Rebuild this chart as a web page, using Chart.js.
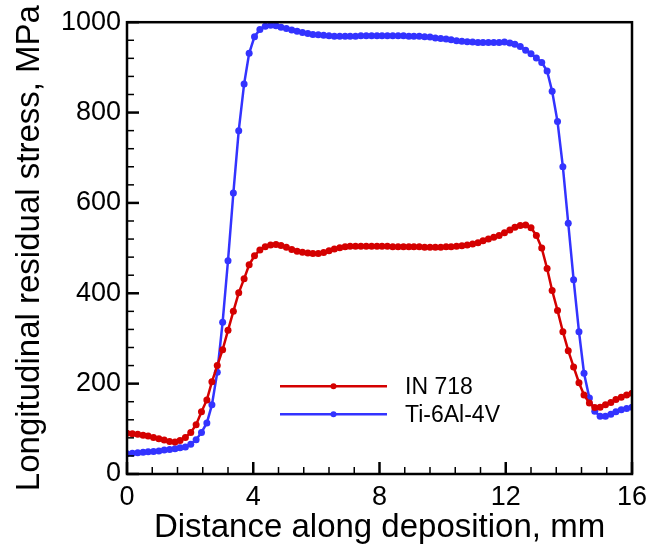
<!DOCTYPE html>
<html>
<head>
<meta charset="utf-8">
<script src="https://cdn.jsdelivr.net/npm/chart.js@4.4.0/dist/chart.umd.min.js"></script>
<style>
  body { margin: 0; background: #fff; }
  #wrap { width: 662px; height: 555px; position: relative; }
</style>
</head>
<body>
<div id="wrap"><canvas id="stressChart"></canvas></div>
<script>
// distance along deposition, mm
const distance = [0, 0.17, 0.34, 0.51, 0.67, 0.84, 1.01, 1.18, 1.35, 1.52, 1.68, 1.85, 2.02, 2.19, 2.36, 2.53,
  2.69, 2.86, 3.03, 3.20, 3.37, 3.54, 3.71, 3.87, 4.04, 4.21, 4.38, 4.55, 4.72, 4.88, 5.05, 5.22,
  5.39, 5.56, 5.73, 5.89, 6.06, 6.23, 6.40, 6.57, 6.74, 6.91, 7.07, 7.24, 7.41, 7.58, 7.75, 7.92,
  8.08, 8.25, 8.42, 8.59, 8.76, 8.93, 9.09, 9.26, 9.43, 9.60, 9.77, 9.94, 10.11, 10.27, 10.44, 10.61,
  10.78, 10.95, 11.12, 11.28, 11.45, 11.62, 11.79, 11.96, 12.13, 12.29, 12.46, 12.63, 12.80, 12.97, 13.14, 13.31,
  13.47, 13.64, 13.81, 13.98, 14.15, 14.32, 14.48, 14.65, 14.82, 14.99, 15.16, 15.33, 15.49, 15.66, 15.83, 16.00];

// longitudinal residual stress, MPa
const in718 = [90, 89, 88, 86, 84, 81, 78, 75, 72, 71, 74, 81, 92, 109, 138, 164,
  204, 240, 275, 318, 360, 401, 432, 463, 483, 496, 503, 507, 508, 506, 502, 497,
  493, 491, 489, 488, 488, 490, 494, 498, 501, 503, 504, 504, 504, 504, 504, 504,
  504, 504, 503, 503, 503, 503, 503, 503, 502, 502, 502, 502, 503, 503, 504, 505,
  507, 509, 512, 516, 520, 524, 528, 534, 540, 546, 550, 551, 545, 528, 500, 455,
  406, 362, 315, 273, 237, 202, 175, 157, 147, 148, 153, 158, 165, 170, 175, 179];

const ti64 = [45, 46, 47, 48, 49, 50, 51, 53, 54, 56, 58, 60, 66, 76, 92, 113,
  153, 225, 336, 472, 622, 760, 863, 931, 968, 984, 991, 993, 992, 989, 986, 983,
  980, 977, 975, 973, 972, 971, 970, 969, 969, 969, 969, 969, 970, 970, 970, 970,
  970, 970, 970, 970, 970, 969, 969, 969, 968, 967, 965, 964, 963, 961, 959, 958,
  957, 956, 955, 955, 955, 955, 955, 956, 954, 951, 946, 938, 930, 921, 911, 892,
  847, 780, 680, 555, 430, 315, 223, 168, 139, 128, 128, 132, 138, 142, 145, 148];

const seriesNames = ['IN 718', 'Ti-6Al-4V'];
const seriesColors = ['#d40000', '#3333ff'];

const xTicks = [0, 4, 8, 12, 16];
const yTicks = [0, 200, 400, 600, 800, 1000];
const xMinorStep = 0.8;
const yMinorStep = 40;

const FONT = '"Liberation Sans", Arial, Helvetica, sans-serif';
Chart.defaults.font.family = FONT;
Chart.defaults.color = '#000';

// frame + inward ticks
const framePlugin = {
  id: 'frame',
  afterDraw(chart) {
    const ctx = chart.ctx;
    const a = chart.chartArea;
    const xs = chart.scales.x, ys = chart.scales.y;
    ctx.save();
    ctx.strokeStyle = '#000';
    for (let v = xs.min; v <= xs.max + 1e-6; v += xMinorStep) {
      const px = xs.getPixelForValue(v);
      const major = xTicks.some(t => Math.abs(t - v) < 1e-6);
      ctx.beginPath();
      ctx.moveTo(px, a.bottom);
      ctx.lineTo(px, a.bottom - (major ? 12 : 7));
      ctx.lineWidth = major ? 2.5 : 1.5;
      ctx.stroke();
    }
    for (let v = ys.min; v <= ys.max + 1e-6; v += yMinorStep) {
      const py = ys.getPixelForValue(v);
      const major = yTicks.some(t => Math.abs(t - v) < 1e-6);
      ctx.beginPath();
      ctx.moveTo(a.left, py);
      ctx.lineTo(a.left + (major ? 12 : 7), py);
      ctx.lineWidth = major ? 2.5 : 1.5;
      ctx.stroke();
    }
    ctx.lineWidth = 2.5;
    ctx.strokeRect(a.left, a.top, a.right - a.left, a.bottom - a.top);
    ctx.restore();
  }
};

// legend inside plot
const innerLegend = {
  id: 'innerLegend',
  afterDatasetsDraw(chart) {
    const ctx = chart.ctx;
    const a = chart.chartArea;
    ctx.save();
    ctx.font = '23px ' + FONT;
    ctx.textBaseline = 'middle';
    chart.data.datasets.forEach((ds, i) => {
      const y = a.top + 364 + i * 28;
      const x0 = a.left + 153, x1 = a.left + 260;
      ctx.strokeStyle = ds.borderColor;
      ctx.lineWidth = 2.5;
      ctx.beginPath();
      ctx.moveTo(x0, y);
      ctx.lineTo(x1, y);
      ctx.stroke();
      ctx.fillStyle = ds.borderColor;
      ctx.beginPath();
      ctx.arc((x0 + x1) / 2, y, 3, 0, Math.PI * 2);
      ctx.fill();
      ctx.fillStyle = '#000';
      ctx.fillText(ds.label, a.left + 278, y + 1);
    });
    ctx.restore();
  }
};

const toPoints = vals => vals.map((v, i) => ({ x: distance[i], y: v }));

new Chart(document.getElementById('stressChart'), {
  type: 'line',
  data: {
    datasets: [in718, ti64].map((vals, i) => ({
      label: seriesNames[i],
      data: toPoints(vals),
      borderColor: seriesColors[i],
      backgroundColor: seriesColors[i],
      pointBackgroundColor: seriesColors[i],
      pointBorderWidth: 0,
      pointRadius: 3.5,
      borderWidth: 2.5,
      tension: 0,
      fill: false
    }))
  },
  options: {
    responsive: true,
    maintainAspectRatio: false,
    animation: false,
    layout: { padding: { top: 16, right: 30, left: 0, bottom: 0 } },
    plugins: {
      legend: { display: false },
      tooltip: { enabled: false }
    },
    scales: {
      x: {
        type: 'linear',
        min: 0,
        max: 16,
        afterBuildTicks: s => { s.ticks = xTicks.map(v => ({ value: v })); },
        afterFit: s => { s.height = 81; },
        grid: { display: false, drawTicks: false },
        border: { display: false },
        ticks: { font: { size: 27 }, padding: 7, maxRotation: 0, callback: v => String(v) },
        title: { display: true, text: 'Distance along deposition, mm', font: { size: 33 }, padding: { top: 0, bottom: 7 } }
      },
      y: {
        type: 'linear',
        min: 0,
        max: 1000,
        afterBuildTicks: s => { s.ticks = yTicks.map(v => ({ value: v })); },
        afterFit: s => { s.width = 127; },
        grid: { display: false, drawTicks: false },
        border: { display: false },
        ticks: { font: { size: 27 }, padding: 6, callback: v => String(v) },
        title: { display: true, text: 'Longitudinal residual stress, MPa', font: { size: 33 }, padding: { top: 10, bottom: 0 } }
      }
    }
  },
  plugins: [framePlugin, innerLegend]
});
</script>
</body>
</html>
